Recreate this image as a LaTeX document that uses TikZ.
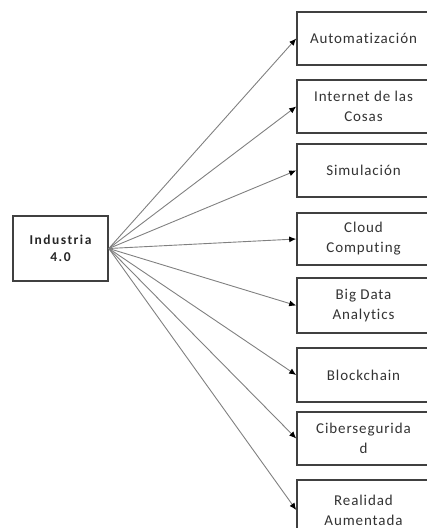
\documentclass[tikz,border=0pt]{standalone}
\usepackage{fontspec}
\setmainfont{Carlito}[Ligatures={NoCommon}]
\usetikzlibrary{arrows.meta}
\begin{document}
\begin{tikzpicture}[x=1pt,y=-1pt,
  topic/.style={draw=black!75,line width=1.6pt,fill=white,
    minimum width=133pt,inner sep=0pt,align=center,text=black!80,
    font=\fontsize{15}{20}\selectfont\addfontfeature{LetterSpace=6}},
  hub/.style={draw=black!75,line width=1.6pt,fill=white,
    minimum width=95pt,minimum height=65pt,inner sep=0pt,align=center,
    text=black!85,font=\fontsize{13.5}{17}\selectfont\bfseries\addfontfeature{LetterSpace=11}},
  link/.style={draw=black!50,line width=0.9pt,
    -{Latex[length=7pt,width=6pt,color=black]}}]
\useasboundingbox (0,0) rectangle (427,528);
\clip (0,0) rectangle (427,528);

% central concept
\node[hub] (hub) at (60.5,248.5) {Industria\\4.0};
\coordinate (src) at (hub.east);

% enabling technologies (right column)
\node[topic,minimum height=53pt] (t1) at (363.5,38.5) {Automatización};
\node[topic,minimum height=53pt] (t2) at (363.5,106.5) {Internet de las\\Cosas};
\node[topic,minimum height=53pt] (t3) at (363.5,170.5) {Simulación};
\node[topic,minimum height=52pt] (t4) at (363.5,239) {Cloud\\Computing};
\node[topic,minimum height=55pt] (t5) at (363.5,305.5) {Big Data\\Analytics};
\node[topic,minimum height=54pt] (t6) at (363.5,375) {Blockchain};
\node[topic,minimum height=53pt] (t7) at (363.5,438.5) {Cibersegurida\\d};
\node[topic,minimum height=60pt] (t8) at (363.5,510) {Realidad\\Aumentada};

% connectors from the hub to every topic
\foreach \t in {t1,t2,t3,t4,t5,t6,t7,t8}
  \draw[link] (src) -- (\t.west);
\end{tikzpicture}
\end{document}
